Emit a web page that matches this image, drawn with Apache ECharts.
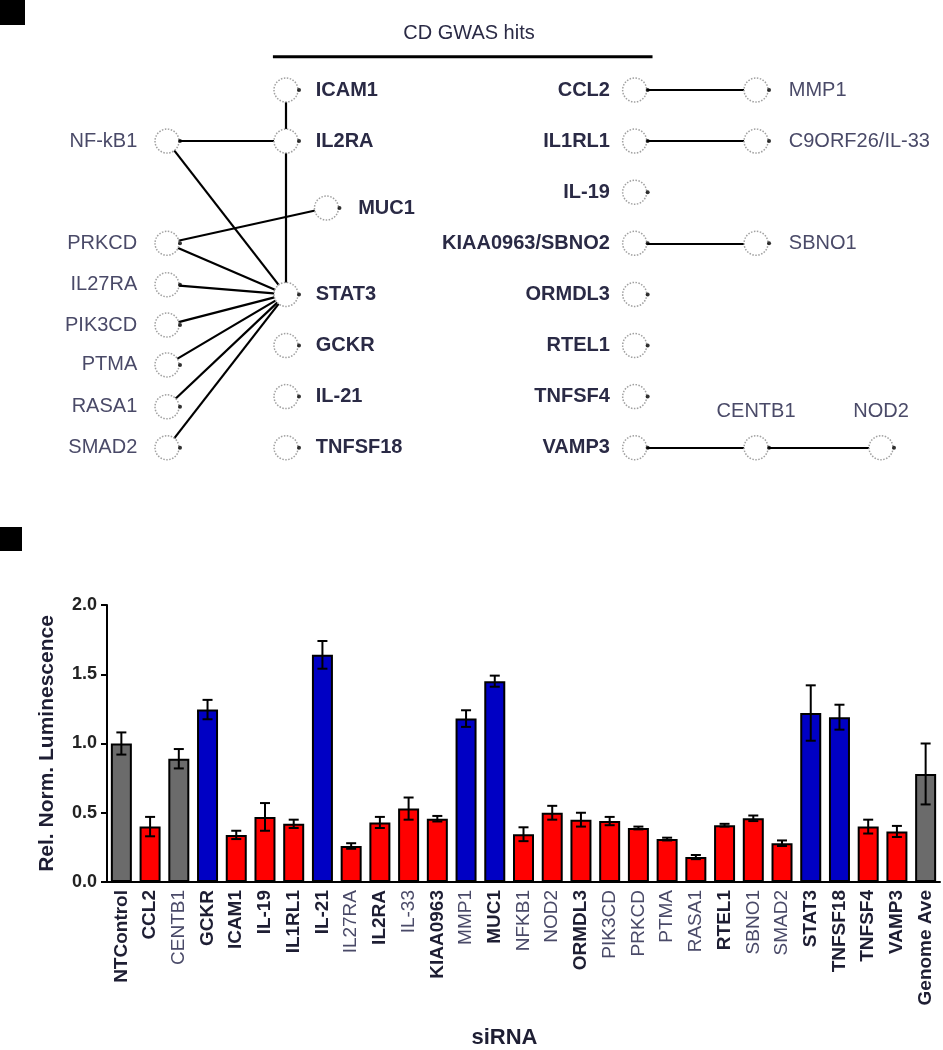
<!DOCTYPE html>
<html><head><meta charset="utf-8">
<script src="https://cdn.jsdelivr.net/npm/echarts/dist/echarts.min.js"></script>
<style>html,body{margin:0;padding:0;background:#fff}#c{width:943px;height:1050px}</style>
</head><body><div id="c"></div>
<script>
// ---------- Panel A: network ----------
const netNames = ['ICAM1','IL2RA','MUC1','STAT3','GCKR','IL-21','TNFSF18',
  'NF-kB1','PRKCD','IL27RA','PIK3CD','PTMA','RASA1','SMAD2',
  'CCL2','IL1RL1','IL-19','KIAA0963/SBNO2','ORMDL3','RTEL1','TNFSF4','VAMP3',
  'MMP1','C9ORF26/IL-33','SBNO1','CENTB1','NOD2'];
const netCol = [1,1,1.34,1,1,1,1,
  0,0,0,0,0,0,0,
  3.93,3.93,3.93,3.93,3.93,3.93,3.93,3.93,
  4.95,4.95,4.95,4.95,6.0];
const netRow = [0,1,2.31,4,5,6,7,
  1,3,3.81,4.6,5.38,6.2,7,
  0,1,2,3,4,5,6,7,
  0,1,3,7,7];
// role: which label placement group each node belongs to
const netRole = ['mid','mid','muc','mid','mid','mid','mid',
  'left','left','left','left','left','left','left',
  'hitL','hitL','hitL','hitL','hitL','hitL','hitL','hitL',
  'right','right','right','top','top'];
const netLinks = [['ICAM1','IL2RA'],['NF-kB1','IL2RA'],['IL2RA','STAT3'],['NF-kB1','STAT3'],
  ['PRKCD','MUC1'],['PRKCD','STAT3'],['IL27RA','STAT3'],['PIK3CD','STAT3'],['PTMA','STAT3'],
  ['RASA1','STAT3'],['SMAD2','STAT3'],['CCL2','MMP1'],['IL1RL1','C9ORF26/IL-33'],
  ['KIAA0963/SBNO2','SBNO1'],['VAMP3','CENTB1'],['CENTB1','NOD2']];
const bracketSpan = [0.89, 4.08];
const bracketRow = -0.65;
const bracketTitle = 'CD GWAS hits';

// ---------- Panel B: bars ----------
const categories = ['NTControl','CCL2','CENTB1','GCKR','ICAM1','IL-19','IL1RL1','IL-21','IL27RA','IL2RA',
  'IL-33','KIAA0963','MMP1','MUC1','NFKB1','NOD2','ORMDL3','PIK3CD','PRKCD','PTMA','RASA1','RTEL1',
  'SBNO1','SMAD2','STAT3','TNFSF18','TNFSF4','VAMP3','Genome Ave'];
const values = [1.00,0.40,0.89,1.245,0.34,0.47,0.42,1.64,0.26,0.43,
  0.53,0.457,1.18,1.45,0.345,0.50,0.45,0.44,0.39,0.31,0.18,0.41,
  0.46,0.28,1.22,1.19,0.40,0.365,0.78];
const errors = [0.08,0.07,0.07,0.07,0.03,0.10,0.03,0.10,0.02,0.04,
  0.08,0.02,0.06,0.04,0.05,0.05,0.05,0.03,0.01,0.01,0.015,0.01,
  0.02,0.02,0.20,0.09,0.05,0.04,0.22];
const groups = ['ctrl','other','ctrl','up','other','other','other','up','other','other',
  'other','other','up','up','other','other','other','other','other','other','other','other',
  'other','other','up','up','other','other','ctrl'];
const boldLabels = ['NTControl','CCL2','GCKR','ICAM1','IL-19','IL1RL1','IL-21','IL2RA','KIAA0963','MUC1',
  'ORMDL3','RTEL1','STAT3','TNFSF18','TNFSF4','VAMP3','Genome Ave'];
const yTickMin = 0, yTickMax = 2, yTickStep = 0.5;
const yTitle = 'Rel. Norm. Luminescence';
const xTitle = 'siRNA';

// ---------- styles ----------
const FONT = '"Liberation Sans", Arial, Helvetica, sans-serif';
const groupColor = {ctrl:'#6b6b6b', other:'#ff0000', up:'#0000c4'};
const roleLabel = {
  mid:  {position:'right', distance:17, fontWeight:'bold', color:'#2a2a45'},
  muc:  {position:'right', distance:19, fontWeight:'bold', color:'#2a2a45'},
  left: {position:'left',  distance:17, fontWeight:'normal', color:'#4a4a68'},
  hitL: {position:'left',  distance:12, fontWeight:'bold', color:'#2a2a45'},
  right:{position:'right', distance:20, fontWeight:'normal', color:'#4a4a68'},
  top:  {position:'top',   distance:13, fontWeight:'normal', color:'#4a4a68'}
};

const chart = echarts.init(document.getElementById('c'), null, {renderer:'canvas'});

const nodeData = netNames.map((n,i)=>({
  name:n, value:[netCol[i], netRow[i]],
  label:Object.assign({show:true, fontSize:20, fontFamily:FONT}, roleLabel[netRole[i]])
}));

const option = {
  animation:false,
  backgroundColor:'#fff',
  grid:[
    {left:107, width:833, top:605, height:280},
    {left:167, width:714, top:38.9, height:408.8}
  ],
  xAxis:[
    {gridIndex:0, type:'category', data:categories,
     axisLine:{lineStyle:{color:'#000', width:2}},
     axisTick:{alignWithLabel:true, length:6, lineStyle:{color:'#000', width:2}},
     axisLabel:{rotate:90, margin:8, fontSize:19, fontFamily:FONT, color:'#3a3a55', interval:0,
       formatter:(v)=> boldLabels.includes(v) ? '{b|'+v+'}' : '{n|'+v+'}',
       rich:{b:{fontWeight:'bold', fontSize:19, fontFamily:FONT, color:'#1e1e33'},
             n:{fontWeight:'normal', fontSize:19, fontFamily:FONT, color:'#4a4a68'}}},
     name:xTitle, nameLocation:'middle', nameGap:145,
     nameTextStyle:{fontSize:22, fontWeight:'bold', fontFamily:FONT, color:'#1e1e33', padding:[0,38,0,0]}},
    {gridIndex:1, type:'value', min:0, max:6, show:false}
  ],
  yAxis:[
    {gridIndex:0, type:'value', min:yTickMin, max:yTickMax, interval:yTickStep,
     axisLine:{show:true, lineStyle:{color:'#000', width:2}},
     axisTick:{show:true, length:6, lineStyle:{color:'#000', width:2}},
     splitLine:{show:false},
     axisLabel:{formatter:(v)=>v.toFixed(1), fontSize:18, fontWeight:'bold', fontFamily:FONT, color:'#222', margin:10},
     name:yTitle, nameLocation:'middle', nameRotate:90, nameGap:49,
     nameTextStyle:{fontSize:21, fontWeight:'bold', fontFamily:FONT, color:'#1e1e33'}},
    {gridIndex:1, type:'value', min:-1, max:7, inverse:true, show:false}
  ],
  series:[
    {type:'bar', xAxisIndex:0, yAxisIndex:0, barWidth:21,
     data:values.map((v,i)=>({value:v, itemStyle:{color:groupColor[groups[i]], borderColor:'#000', borderWidth:2}})),
     z:2},
    {type:'custom', xAxisIndex:0, yAxisIndex:0, z:4,
     data:categories.map((c,i)=>[i, values[i], errors[i]]),
     encode:{x:0, y:1},
     renderItem:(params, api)=>{
       const x = api.value(0), v = api.value(1), e = api.value(2);
       const top = api.coord([x, v+e]), bot = api.coord([x, v-e]);
       const hw = 5, st = {stroke:'#000', lineWidth:2};
       return {type:'group', children:[
         {type:'line', shape:{x1:top[0], y1:top[1], x2:bot[0], y2:bot[1]}, style:st},
         {type:'line', shape:{x1:top[0]-hw, y1:top[1], x2:top[0]+hw, y2:top[1]}, style:st},
         {type:'line', shape:{x1:bot[0]-hw, y1:bot[1], x2:bot[0]+hw, y2:bot[1]}, style:st}
       ]};
     }},
    {type:'graph', coordinateSystem:'cartesian2d', xAxisIndex:1, yAxisIndex:1,
     symbol:'circle', symbolSize:24, z:3,
     itemStyle:{color:'#fff', borderColor:'#a0a0a0', borderWidth:1.5, borderType:'dotted'},
     lineStyle:{color:'#000', width:2.2, opacity:1, curveness:0},
     emphasis:{disabled:true},
     data:nodeData,
     links:netLinks.map(([s,t])=>({source:s, target:t}))},
    {type:'scatter', xAxisIndex:1, yAxisIndex:1, z:5, symbol:'circle', symbolSize:4,
     symbolOffset:[13,0], itemStyle:{color:'#000'}, silent:true,
     data:netNames.map((n,i)=>[netCol[i], netRow[i]])},
    {type:'line', xAxisIndex:1, yAxisIndex:1, symbol:'none', silent:true,
     lineStyle:{color:'#000', width:3},
     data:[[bracketSpan[0], bracketRow],[bracketSpan[1], bracketRow]]}
  ],
  graphic:[
    {type:'rect', shape:{x:0, y:0, width:25, height:25}, style:{fill:'#000'}},
    {type:'rect', shape:{x:0, y:527, width:22, height:24}, style:{fill:'#000'}},
    {type:'text', x:469, y:33, style:{text:bracketTitle, font:'20px '+FONT, fill:'#2a2a45',
      textAlign:'center', textVerticalAlign:'middle'}}
  ]
};
chart.setOption(option);
</script></body></html>
